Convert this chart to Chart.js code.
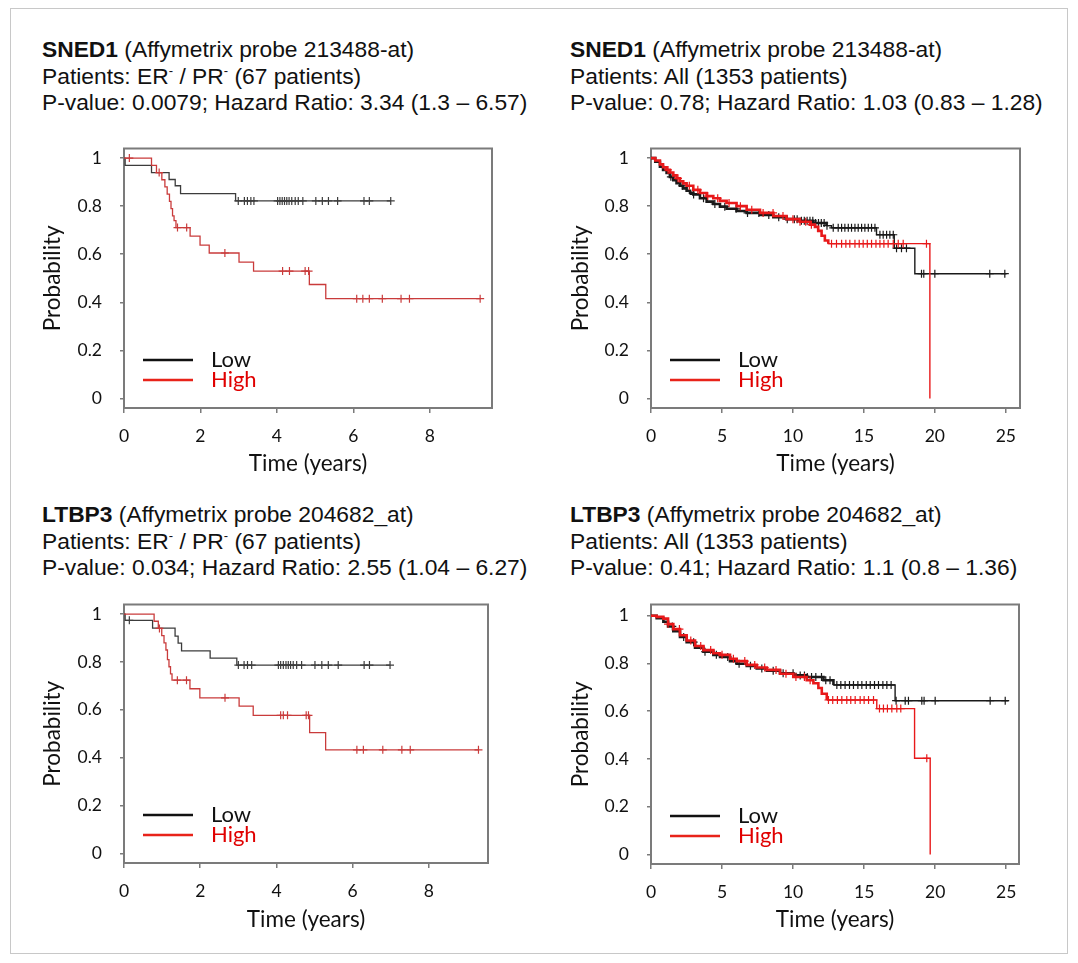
<!DOCTYPE html>
<html>
<head>
<meta charset="utf-8">
<script src="https://cdn.jsdelivr.net/npm/chart.js@4.4.1/dist/chart.umd.min.js"></script>
<title>SNED1 / LTBP3 survival</title>
<style>
body{margin:0;background:#fff;}
#page{position:relative;width:1078px;height:963px;}
#frame{position:absolute;left:10px;top:8px;width:1056px;height:944px;border:1px solid #c8c8c8;}
.head{position:absolute;font-family:"Liberation Sans",Arial,sans-serif;font-size:22.8px;line-height:26.7px;color:#111;white-space:nowrap;}
.head sup{font-size:13px;vertical-align:9px;line-height:0;}
.box{position:absolute;width:500px;height:360px;}
</style>
</head>
<body>
<div id="page">
<div id="frame"></div>
<div class="head" style="left:42px;top:36px"><b>SNED1</b> (Affymetrix probe 213488-at)<br>Patients: ER<sup>-</sup> / PR<sup>-</sup> (67 patients)<br>P-value: 0.0079; Hazard Ratio: 3.34 (1.3 – 6.57)</div>
<div class="head" style="left:570px;top:36px"><b>SNED1</b> (Affymetrix probe 213488-at)<br>Patients: All (1353 patients)<br>P-value: 0.78; Hazard Ratio: 1.03 (0.83 – 1.28)</div>
<div class="head" style="left:42px;top:501px"><b>LTBP3</b> (Affymetrix probe 204682_at)<br>Patients: ER<sup>-</sup> / PR<sup>-</sup> (67 patients)<br>P-value: 0.034; Hazard Ratio: 2.55 (1.04 – 6.27)</div>
<div class="head" style="left:570px;top:501px"><b>LTBP3</b> (Affymetrix probe 204682_at)<br>Patients: All (1353 patients)<br>P-value: 0.41; Hazard Ratio: 1.1 (0.8 – 1.36)</div>
<div class="box" style="left:20px;top:120px"><canvas id="c1"></canvas></div>
<div class="box" style="left:548px;top:120px"><canvas id="c2"></canvas></div>
<div class="box" style="left:20px;top:576px"><canvas id="c3"></canvas></div>
<div class="box" style="left:548px;top:576px"><canvas id="c4"></canvas></div>
</div>
<script>
const seriesNames = ['Low', 'High'];
const yTicks = [0, 0.2, 0.4, 0.6, 0.8, 1];

// SNED1, ER-/PR-
const lowT1 = [0, 0.03, 0.72, 1.18, 1.34, 1.48, 2.92, 6.98];
const lowS1 = [1, 0.97, 0.94, 0.911, 0.885, 0.852, 0.822, 0.822];
const lowCens1 = [2.99, 3.15, 3.23, 3.32, 3.40, 4.02, 4.08, 4.14, 4.20, 4.26, 4.32, 4.39, 4.48, 4.56, 4.68, 5.02, 5.19, 5.35, 5.59, 6.28, 6.42, 6.98];
const highT1 = [0, 0.72, 0.85, 0.99, 1.07, 1.13, 1.19, 1.23, 1.27, 1.31, 1.36, 1.73, 1.99, 2.23, 3.01, 3.39, 4.85, 5.28, 9.32];
const highS1 = [1, 0.97, 0.94, 0.91, 0.88, 0.85, 0.82, 0.79, 0.76, 0.74, 0.711, 0.675, 0.638, 0.605, 0.567, 0.53, 0.474, 0.415, 0.415];
const highCens1 = [0.14, 0.92, 1.40, 1.64, 2.64, 4.15, 4.33, 4.74, 4.83, 6.09, 6.25, 6.42, 6.76, 7.25, 7.47, 9.32];

// SNED1, all patients
const lowT2 = [0, 0.3, 0.63, 0.85, 1.10, 1.33, 1.57, 1.80, 2.04, 2.27, 2.51, 2.75, 2.98, 3.45, 3.92, 4.39, 4.86, 5.33, 6.03, 6.74, 7.68, 8.62, 9.55, 10.49, 11.43, 12.37, 12.72, 15.89, 17.14, 18.59, 25.05];
const lowS2 = [1, 0.985, 0.964, 0.951, 0.938, 0.922, 0.908, 0.896, 0.885, 0.874, 0.864, 0.856, 0.849, 0.833, 0.819, 0.809, 0.798, 0.789, 0.780, 0.772, 0.763, 0.754, 0.746, 0.739, 0.730, 0.719, 0.710, 0.681, 0.625, 0.519, 0.519];
const lowCens2 = [1.4, 2.2, 3.0, 3.7, 4.5, 5.2, 6.0, 6.8, 7.6, 8.3, 9.0, 9.6, 10.1, 10.3, 10.6, 10.8, 11.0, 11.2, 11.4, 11.6, 11.8, 12.0, 12.2, 12.4, 12.84, 13.19, 13.43, 13.66, 13.90, 14.13, 14.37, 14.60, 14.84, 15.07, 15.31, 15.54, 15.78, 16.13, 16.36, 16.60, 16.83, 17.07, 17.30, 17.65, 18.0, 19.06, 19.22, 20.0, 23.87, 24.93];
const highT2 = [0, 0.3, 0.63, 0.85, 1.10, 1.33, 1.57, 1.80, 2.04, 2.27, 2.51, 2.98, 3.45, 3.92, 4.39, 4.86, 5.33, 6.03, 6.74, 7.68, 8.62, 9.55, 10.49, 11.20, 11.55, 11.78, 12.02, 12.25, 12.49, 19.65];
const highS2 = [1, 0.99, 0.974, 0.962, 0.951, 0.940, 0.928, 0.916, 0.904, 0.895, 0.885, 0.868, 0.855, 0.842, 0.833, 0.822, 0.813, 0.800, 0.785, 0.772, 0.759, 0.746, 0.735, 0.723, 0.714, 0.697, 0.677, 0.657, 0.644, 0];
const highCens2 = [1.2, 1.9, 2.7, 3.3, 4.0, 4.7, 5.5, 6.3, 7.1, 7.9, 8.6, 9.3, 10.0, 10.5, 10.9, 11.3, 12.72, 13.07, 13.43, 13.73, 14.01, 14.37, 14.67, 14.95, 15.24, 15.54, 15.85, 16.13, 16.41, 16.71, 17.07, 17.42, 17.77, 19.41];

// LTBP3, ER-/PR-
const lowT3 = [0, 0.03, 0.75, 1.34, 1.42, 1.51, 2.26, 2.96, 6.98];
const lowS3 = [1, 0.974, 0.941, 0.908, 0.879, 0.846, 0.816, 0.787, 0.787];
const lowCens3 = [0.14, 3.00, 3.15, 3.24, 3.35, 4.05, 4.11, 4.18, 4.25, 4.31, 4.37, 4.44, 4.53, 4.66, 5.01, 5.19, 5.36, 5.62, 6.30, 6.44, 6.98];
const highT3 = [0, 0.79, 0.90, 0.99, 1.05, 1.10, 1.14, 1.18, 1.22, 1.26, 1.73, 1.99, 3.02, 3.39, 4.87, 5.29, 9.30];
const highS3 = [1, 0.97, 0.94, 0.91, 0.88, 0.85, 0.81, 0.78, 0.75, 0.724, 0.688, 0.650, 0.615, 0.577, 0.505, 0.433, 0.433];
const highCens3 = [0.93, 1.40, 1.64, 2.65, 4.11, 4.18, 4.29, 4.78, 4.84, 6.11, 6.28, 6.79, 7.29, 7.51, 9.30];

// LTBP3, all patients
const lowT4 = [0, 0.4, 0.87, 1.2, 1.57, 2.04, 2.51, 3.10, 3.69, 4.39, 4.86, 5.56, 6.03, 6.74, 7.44, 8.15, 9.08, 10.02, 10.96, 12.14, 12.84, 17.18, 25.16];
const lowS4 = [1, 0.99, 0.975, 0.955, 0.935, 0.911, 0.889, 0.866, 0.849, 0.836, 0.827, 0.810, 0.799, 0.790, 0.779, 0.770, 0.759, 0.750, 0.743, 0.730, 0.710, 0.644, 0.644];
const lowCens4 = [1.5, 2.3, 3.0, 3.8, 4.6, 5.4, 6.2, 7.0, 7.8, 8.6, 9.3, 10.0, 10.5, 10.8, 11.0, 11.3, 11.6, 12.0, 12.3, 12.6, 13.08, 13.36, 13.66, 13.97, 14.25, 14.56, 14.84, 15.15, 15.43, 15.73, 16.01, 16.32, 16.60, 16.90, 17.25, 17.89, 18.12, 19.06, 19.22, 20.0, 23.87, 24.93];
const highT4 = [0, 0.4, 0.87, 1.2, 1.57, 2.04, 2.51, 3.10, 3.69, 4.39, 4.86, 5.56, 6.03, 6.74, 7.44, 8.15, 9.08, 10.02, 10.96, 11.43, 11.78, 12.02, 12.37, 15.89, 18.55, 19.65];
const highS4 = [1, 0.995, 0.988, 0.965, 0.944, 0.918, 0.896, 0.873, 0.856, 0.843, 0.836, 0.820, 0.810, 0.794, 0.783, 0.773, 0.757, 0.743, 0.730, 0.717, 0.697, 0.673, 0.647, 0.611, 0.403, 0];
const highCens4 = [1.2, 2.0, 2.8, 3.5, 4.2, 5.0, 5.8, 6.6, 7.3, 8.0, 8.8, 9.5, 10.2, 10.8, 11.2, 12.49, 12.79, 13.12, 13.43, 13.78, 14.06, 14.37, 14.72, 15.0, 15.31, 15.66, 16.08, 16.36, 16.64, 16.95, 17.3, 17.58, 19.41];

function steps(ts, ss) { return ts.map((t, i) => ({x: t, y: ss[i]})); }
// censor mark sits on the curve at its time
function marks(cens, ts, ss) {
  return cens.map(t => {
    let v = ss[0];
    for (let i = 0; i < ts.length; i++) if (ts[i] <= t) v = ss[i];
    return {x: t, y: v};
  });
}

const boxFrame = {
  id: 'boxFrame',
  beforeDatasetsDraw(chart) {
    const {ctx, chartArea: a} = chart;
    ctx.save();
    ctx.strokeStyle = '#7b7b7b';
    ctx.lineWidth = 2;
    ctx.strokeRect(a.left, a.top, a.right - a.left, a.bottom - a.top);
    ctx.restore();
  }
};

const kmLegend = {
  id: 'kmLegend',
  afterDraw(chart, args, opts) {
    const {ctx, chartArea: a} = chart;
    ctx.save();
    ctx.font = '22px Lato';
    ctx.textBaseline = 'middle';
    opts.labels.forEach((lab, i) => {
      const y = a.bottom - 48 + i * 20;
      ctx.strokeStyle = opts.lineColors[i];
      ctx.lineWidth = 2.5;
      ctx.beginPath();
      ctx.moveTo(a.left + 19, y);
      ctx.lineTo(a.left + 69, y);
      ctx.stroke();
      ctx.fillStyle = opts.textColors[i];
      ctx.fillText(lab, a.left + 87, y);
    });
    ctx.restore();
  }
};

function kmChart(id, p) {
  const tickFont = {family: 'Lato', size: 17.5};
  const titleFont = {family: 'Lato', size: 22.5};
  const seg = p.thickUntil ? {borderWidth: c => c.p0.parsed.x < p.thickUntil ? 2.6 : 1.4} : undefined;
  new Chart(document.getElementById(id), {
    type: 'line',
    data: {
      datasets: [
        {label: seriesNames[1], data: steps(p.highT, p.highS), stepped: 'before', borderColor: p.red, borderWidth: p.lw, pointRadius: 0, segment: seg, order: 1},
        {label: seriesNames[1] + ' censored', data: marks(p.highC, p.highT, p.highS), showLine: false, pointStyle: 'cross', pointRadius: 4, pointBorderWidth: 1.2, pointBorderColor: p.red, order: 0},
        {label: seriesNames[0], data: steps(p.lowT, p.lowS), stepped: 'before', borderColor: p.black, borderWidth: p.lw, pointRadius: 0, segment: seg, order: 3},
        {label: seriesNames[0] + ' censored', data: marks(p.lowC, p.lowT, p.lowS), showLine: false, pointStyle: 'cross', pointRadius: 4, pointBorderWidth: 1.2, pointBorderColor: p.black, order: 2}
      ]
    },
    options: {
      animation: false,
      responsive: true,
      maintainAspectRatio: false,
      layout: {padding: {top: p.padTop, right: p.padRight, left: 0, bottom: 0}},
      plugins: {
        legend: {display: false},
        tooltip: {enabled: false},
        kmLegend: {labels: seriesNames, lineColors: ['#111111', '#e8231a'], textColors: ['#111111', '#e00000']}
      },
      scales: {
        x: {
          type: 'linear', min: 0, max: p.xMax,
          afterFit: s => { s.height = p.xHeight; },
          ticks: {stepSize: p.xStep, includeBounds: false, padding: 13, color: '#111', font: tickFont, maxRotation: 0},
          grid: {drawOnChartArea: false, drawTicks: true, tickLength: 5, color: '#7b7b7b', lineWidth: 1.5},
          border: {display: false},
          title: {display: true, text: 'Time (years)', color: '#111', font: titleFont, padding: {top: 0, bottom: 3}}
        },
        y: {
          min: -0.04, max: p.yMax,
          afterFit: s => { s.width = p.yWidth; },
          afterBuildTicks: s => { s.ticks = yTicks.map(v => ({value: v})); },
          ticks: {padding: 18, color: '#111', font: tickFont, callback: v => String(v)},
          grid: {drawOnChartArea: false, drawTicks: true, tickLength: 4, color: '#7b7b7b', lineWidth: 1.5},
          border: {display: false},
          title: {display: true, text: 'Probability', color: '#111', font: titleFont, padding: {top: 19, bottom: 0}}
        }
      }
    },
    plugins: [boxFrame, kmLegend]
  });
}

kmChart('c1', {lowT: lowT1, lowS: lowS1, lowC: lowCens1, highT: highT1, highS: highS1, highC: highCens1,
  xMax: 9.63, xStep: 2, yMax: 1.04, yWidth: 104, xHeight: 72, padTop: 14, padRight: 28, lw: 1.3, black: '#3c3c3c', red: '#c93b3b'});
kmChart('c2', {lowT: lowT2, lowS: lowS2, lowC: lowCens2, highT: highT2, highS: highS2, highC: highCens2,
  xMax: 26, xStep: 5, yMax: 1.04, yWidth: 103, xHeight: 72, padTop: 15, padRight: 28, lw: 1.4, thickUntil: 12.3, black: '#1a1a1a', red: '#e8191a'});
kmChart('c3', {lowT: lowT3, lowS: lowS3, lowC: lowCens3, highT: highT3, highS: highS3, highC: highCens3,
  xMax: 9.55, xStep: 2, yMax: 1.04, yWidth: 104, xHeight: 73, padTop: 14, padRight: 32, lw: 1.3, black: '#3c3c3c', red: '#c93b3b'});
kmChart('c4', {lowT: lowT4, lowS: lowS4, lowC: lowCens4, highT: highT4, highS: highS4, highC: highCens4,
  xMax: 25.9, xStep: 5, yMax: 1.047, yWidth: 103, xHeight: 72, padTop: 14, padRight: 29, lw: 1.4, thickUntil: 12.3, black: '#1a1a1a', red: '#e8191a'});
</script>
</body>
</html>
